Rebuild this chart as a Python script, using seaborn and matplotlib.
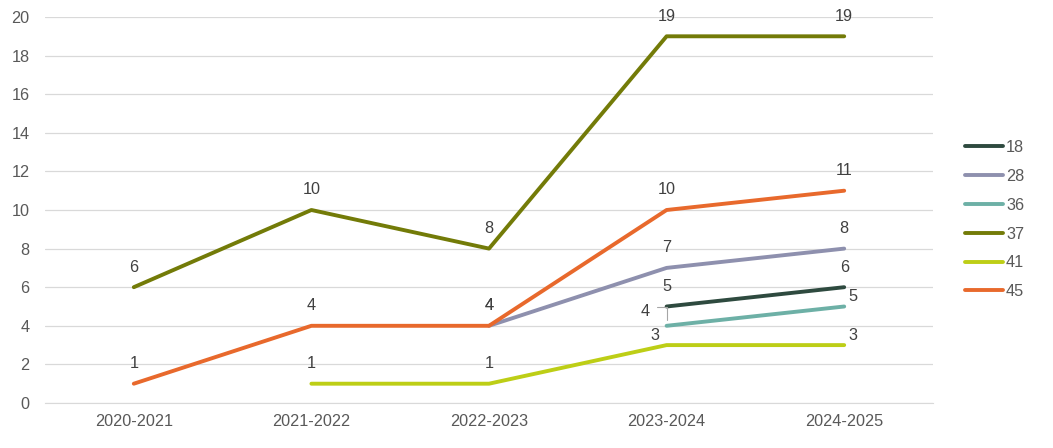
import numpy as np
import pandas as pd
import seaborn as sns
import matplotlib.pyplot as plt

# data
years = ["2020-2021", "2021-2022", "2022-2023", "2023-2024", "2024-2025"]
s18 = [None, None, None, 5, 6]
s28 = [None, None, 4, 7, 8]
s36 = [None, None, None, 4, 5]
s37 = [6, 10, 8, 19, 19]
s41 = [None, 1, 1, 3, 3]
s45 = [1, 4, 4, 10, 11]
names = ["18", "28", "36", "37", "41", "45"]
colors = ["#2E4A3F", "#8E90AE", "#6DB0A6", "#737B08", "#BDCE16", "#E8692C"]

rows = []
for name, vals in zip(names, [s18, s28, s36, s37, s41, s45]):
    for i, v in enumerate(vals):
        if v is not None:
            rows.append({"year": i, "value": v, "series": name})
df = pd.DataFrame(rows)

sns.set_style("white")
plt.rcParams['font.family'] = ['Liberation Sans', 'DejaVu Sans']
fs = 11.7

fig = plt.figure(figsize=(10.53, 4.48), dpi=100)
ax = fig.add_axes([45 / 1053, 1 - 403 / 448, 888 / 1053, 386 / 448])

sns.lineplot(data=df, x="year", y="value", hue="series", hue_order=names,
             palette=colors, linewidth=2.8, ax=ax, solid_capstyle="round")

ax.set_xlim(-0.5, 4.5)
ax.set_ylim(0, 20)
ax.set_yticks(np.arange(0, 21, 2))
ax.set_xticks(range(5))
ax.set_xticklabels(years)
ax.set_xlabel("")
ax.set_ylabel("")
ax.grid(axis="y", color="#D9D9D9", linewidth=0.9)
ax.set_axisbelow(True)
for s in ["top", "right", "left"]:
    ax.spines[s].set_visible(False)
ax.spines["bottom"].set_color("#D9D9D9")
ax.tick_params(length=0, labelsize=fs, colors="#595959", pad=8)
ax.tick_params(axis="y", pad=11)

# data labels (pixel offsets for the ones Excel moved)
moved = {("36", 3): (-21, 14), ("36", 4): (9, 10), ("41", 3): (-12, 10), ("41", 4): (9, 10)}
for name, vals in zip(names, [s18, s28, s36, s37, s41, s45]):
    for i, v in enumerate(vals):
        if v is None:
            continue
        off = moved.get((name, i), (0, 20))
        ax.annotate(str(v), (i, v), xytext=off, textcoords="offset pixels",
                    ha="center", va="center", fontsize=fs, color="#404040")

# leader line for the shifted "4"
ax.annotate("", (3, 4.15), xytext=(-12, 16), textcoords="offset pixels",
            arrowprops=dict(arrowstyle="-", color="#A6A6A6", lw=0.8,
                            connectionstyle="angle,angleA=0,angleB=90,rad=0"))

handles, labels = ax.get_legend_handles_labels()
ax.legend(handles, labels, loc="center left", bbox_to_anchor=(1.02, 0.475),
          frameon=False, fontsize=fs, labelcolor="#595959", handlelength=2.3,
          handletextpad=0.2, labelspacing=0.85)

fig.savefig("out.png", dpi=100)
